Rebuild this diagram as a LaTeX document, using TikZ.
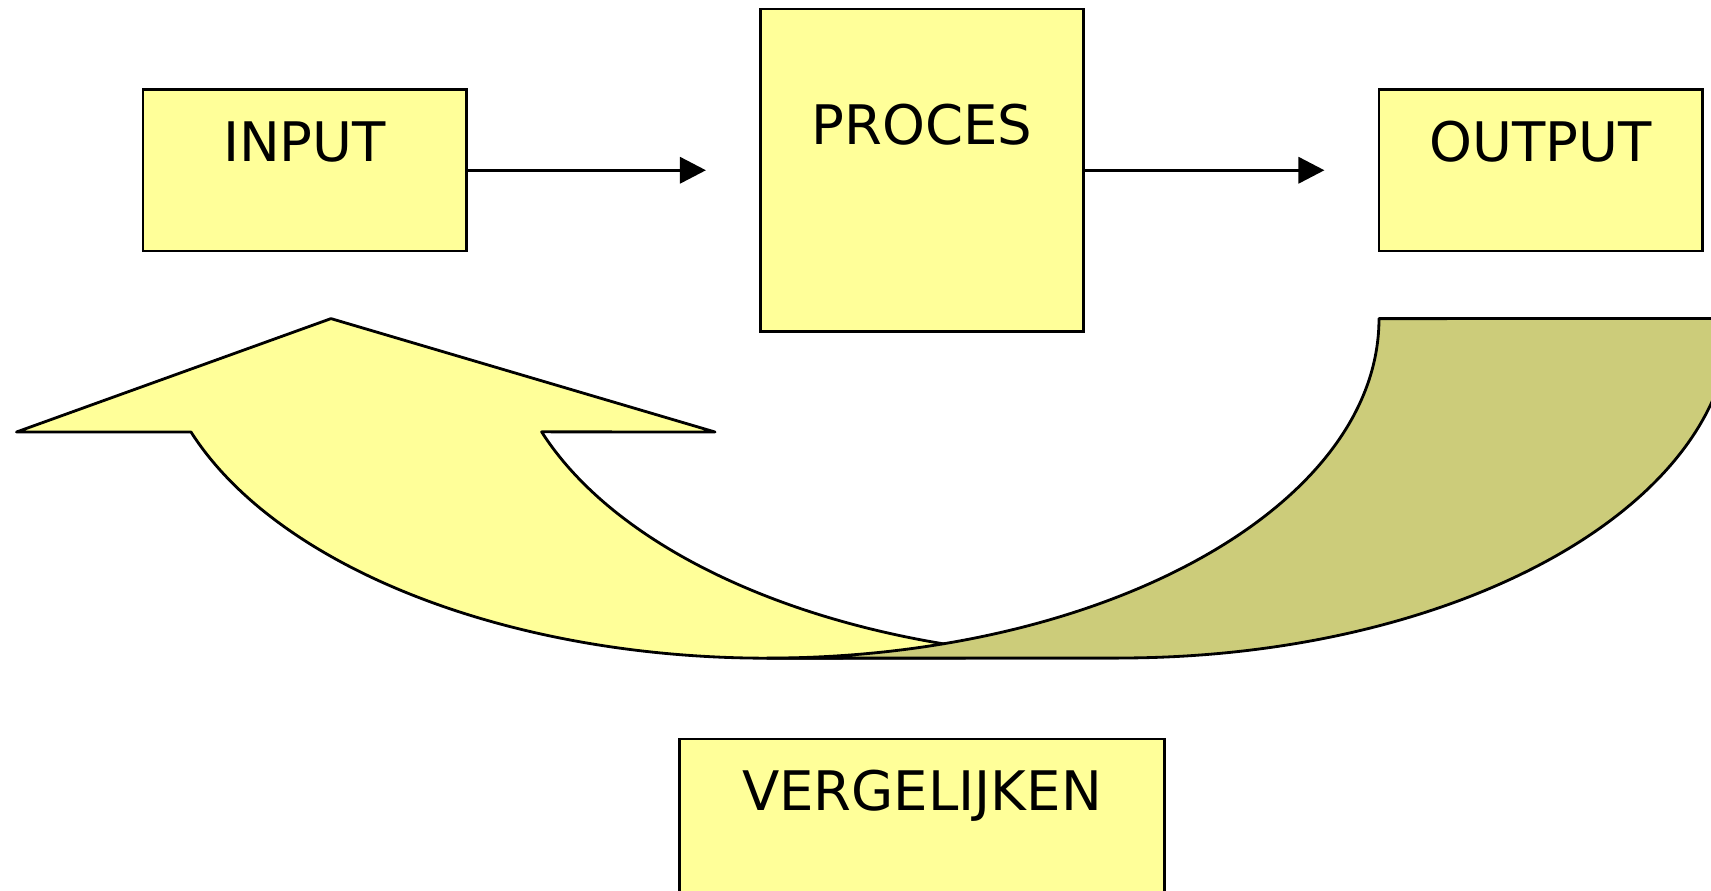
\documentclass[tikz,border=0pt]{standalone}
\usepackage{fontspec}
\setmainfont{DejaVu Sans}
\usetikzlibrary{arrows.meta}
\definecolor{paleyellow}{HTML}{FFFF99}
\definecolor{darkyellow}{HTML}{CCCC7A}
\tikzset{
 block/.style={draw, line width=0.8pt, fill=paleyellow, inner ysep=0pt, font=\fontsize{15.5}{18}\selectfont},
 flow/.style={line width=1pt, -{Triangle[length=0.26cm, width=0.26cm]}, shorten >=0.53cm},
 band/.style={draw, line width=0.8pt, line join=round},
}
\begin{document}
\begin{tikzpicture}[x=0.01cm, y=-0.01cm]
 \useasboundingbox (0,0) rectangle (1711,890);
 % feedback arrow, front and back
 \path[band, fill=paleyellow] (191,432) arc[start angle=160.5, end angle=90, x radius=612, y radius=339.5]
   -- (1118.5,658) arc[start angle=90, end angle=160.5, x radius=612, y radius=339.5]
   -- (715,432) -- (331,318.6) -- (16.5,432) -- cycle;
 \path[band, fill=darkyellow] (1379,318.6) arc[start angle=0, end angle=90, x radius=612, y radius=339.5]
   -- (1118.5,658) arc[start angle=90, end angle=0, x radius=612, y radius=339.5] -- cycle;
 \node[block, minimum width=3.23cm, text height=0.72cm, text depth=0.895cm] (input) at (304.5,170.25) {INPUT};
 \node[block, minimum width=3.23cm, text height=1.355cm, text depth=1.87cm] (proces) at (922,170.25) {PROCES};
 \node[block, minimum width=3.23cm, text height=0.72cm, text depth=0.895cm] (output) at (1540.5,170.25) {OUTPUT};
 \node[block, minimum width=4.84cm, text height=0.71cm, text depth=2cm, anchor=north] (vergelijken) at (922,737.6) {VERGELIJKEN};
 \draw[flow] (input.east) -- (input.east -| proces.west);
 \draw[flow] (proces.east) -- (proces.east -| output.west);
\end{tikzpicture}
\end{document}
